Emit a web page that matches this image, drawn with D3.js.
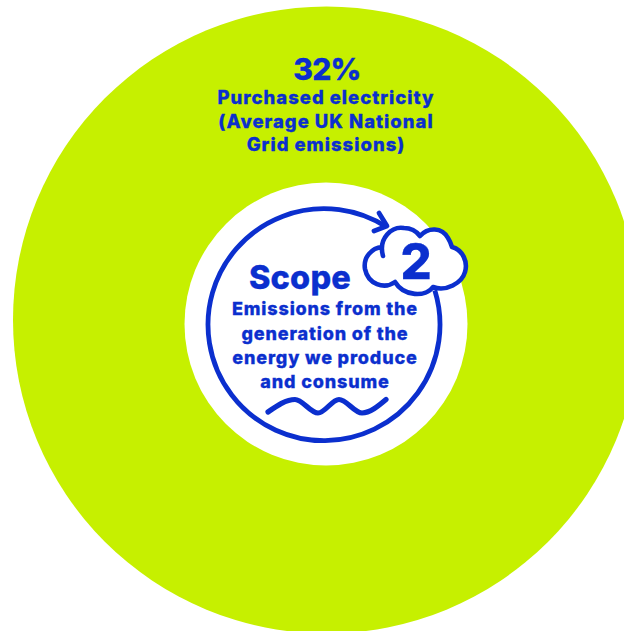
<!DOCTYPE html>
<html>
<head>
<meta charset="utf-8">
<style>
html,body{margin:0;padding:0;background:#fff;overflow:hidden}
svg{display:block}
text{font-family:"Inter",sans-serif;font-weight:800;fill:#0b2fce;text-anchor:middle;stroke:#0b2fce;stroke-width:0.3}
</style>
<script src="https://cdn.jsdelivr.net/npm/d3@7"></script>
</head>
<body>
<svg id="chart" width="624" height="631"></svg>
<script>
// Chart content
const shareLabels = ["32%"];
const shareValues = [32];
const ringCaption = ["Purchased electricity", "(Average UK National", "Grid emissions)"];
const scopeWord = ["Scope"];
const scopeNumber = ["2"];
const scopeText = ["Emissions from the", "generation of the", "energy we produce", "and consume"];

const LIME = "#c6f000", BLUE = "#0b2fce";
const cx = 326, cy = 324;
const svg = d3.select("#chart");

// Single-segment disc, with the white hub laid over it slightly off-centre
const pie = d3.pie().sort(null);
const arc = d3.arc().innerRadius(0).outerRadius(313.5);
svg.append("g").attr("transform", "translate(326.5,320)")
  .selectAll("path.slice").data(pie(shareValues)).join("path")
  .attr("class", "slice").attr("d", arc).attr("fill", LIME);

const g = svg.append("g").attr("transform", `translate(${cx},${cy})`);
g.append("circle").attr("r", 141.5).attr("fill", "#fff");

// Looping line around the scope badge, ending in an arrow head
const ringR = 116;
const loop = d3.arc().innerRadius(ringR).outerRadius(ringR)
  .startAngle(1.27).endAngle(2 * Math.PI + 0.57);
g.append("path").attr("transform", "translate(-2,0.7)").attr("d", loop()).attr("fill", "none")
  .attr("stroke", BLUE).attr("stroke-width", 4.8);
g.append("path").attr("d", "M53,-111 L61,-98 L48,-93")
  .attr("fill", "none").attr("stroke", BLUE).attr("stroke-width", 4.8)
  .attr("stroke-linecap", "round").attr("stroke-linejoin", "round");

// Cloud holding the scope number: white body first, then its open outline
const lobes = "M57,-68 C52,-86 66,-98 78,-96 C85,-96 91,-92 94,-88 C102,-97 116,-97 122,-86 C124,-83 125,-80 126,-77 C137,-74 142,-62 139,-52 C136,-41 120,-32 107,-37 C100,-27 78,-27 69,-42 C58,-34 42,-40 39,-55 C37,-67 46,-76 56,-77";
g.append("path").attr("d", lobes + " Z").attr("fill", "#fff");
g.append("path").attr("d", lobes)
  .attr("fill", "none").attr("stroke", BLUE).attr("stroke-width", 4.6)
  .attr("stroke-linecap", "round").attr("stroke-linejoin", "round");

// Wavy underline
const wave = [[-58,88],[-31,75.5],[-8,89],[13,75.5],[36,89],[60,75.5]];
g.append("path")
  .attr("d", d3.line().curve(d3.curveMonotoneX)(wave))
  .attr("fill", "none").attr("stroke", BLUE).attr("stroke-width", 5.2)
  .attr("stroke-linecap", "round");

// Text
const put = (txt, x, y, size, sp) => svg.append("text")
  .attr("x", x).attr("y", y).attr("font-size", size)
  .attr("letter-spacing", sp).text(txt);

put(shareLabels[0], 327, 80, 30, -0.8);
ringCaption.forEach((t, i) => put(t, 326, [104, 127.5, 151][i], 18.5, 1));
put(scopeWord[0], 300, 289, 32.5, 0.2);
put(scopeNumber[0], 416, 279, 49, 0);
scopeText.forEach((t, i) => put(t, 325, [315, 340, 364, 388][i], 18, 0.85));
</script>
</body>
</html>
